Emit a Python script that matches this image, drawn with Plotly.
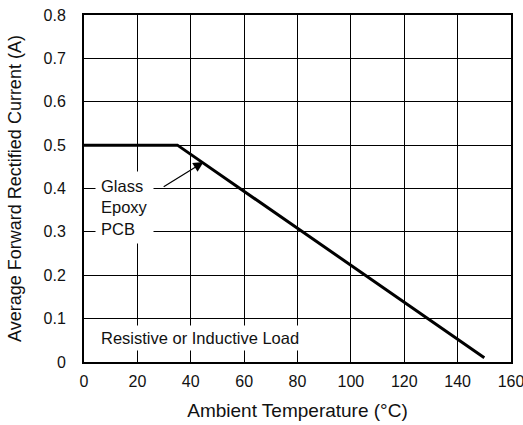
import plotly.graph_objects as go

temp_c = [0, 35, 150]
current_a = [0.5, 0.5, 0.01]
x_ticks = [0, 20, 40, 60, 80, 100, 120, 140, 160]
y_ticks = [0, 0.1, 0.2, 0.3, 0.4, 0.5, 0.6, 0.7, 0.8]
y_tick_labels = ["0", "0.1", "0.2", "0.3", "0.4", "0.5", "0.6", "0.7", "0.8"]

font = "Liberation Sans, Arial, Helvetica, sans-serif"

fig = go.Figure()
fig.add_trace(go.Scatter(x=temp_c, y=current_a, mode="lines",
                         line=dict(color="black", width=3), showlegend=False,
                         hoverinfo="skip"))

fig.update_layout(
    width=523, height=425,
    margin=dict(l=84, r=12, t=15, b=63),
    paper_bgcolor="white", plot_bgcolor="white",
    font=dict(family=font, size=16, color="#111"),
    xaxis=dict(range=[0, 160], tickvals=x_ticks, showgrid=True, gridcolor="black",
               gridwidth=1, showline=True, linecolor="black", linewidth=2, mirror=True,
               ticks="", zeroline=False, tickfont=dict(size=16), automargin=False,
               ticklabelstandoff=4, ticklabeloverflow="allow",
               title=dict(text="Ambient Temperature (°C)", font=dict(size=19), standoff=14)),
    yaxis=dict(range=[0, 0.8], tickvals=y_ticks, ticktext=y_tick_labels, showgrid=True,
               gridcolor="black", gridwidth=1, showline=True, linecolor="black",
               linewidth=2, mirror=True, ticks="", zeroline=False, tickfont=dict(size=16),
               automargin=False, ticklabelstandoff=13, ticklabeloverflow="allow",
               title=dict(text="Average Forward Rectified Current (A)", font=dict(size=18),
                          standoff=17)),
)

fig.add_annotation(x=4, y=0.357, xref="x", yref="y", xanchor="left", yanchor="middle",
                   text="Glass<br>Epoxy<br>PCB", showarrow=False, align="left",
                   bgcolor="white", font=dict(size=16.5), borderpad=5)
fig.add_annotation(x=44.8, y=0.461, ax=29.3, ay=0.402, xref="x", yref="y",
                   axref="x", ayref="y", text="", showarrow=True, arrowhead=2,
                   arrowsize=1.7, arrowwidth=1.2, arrowcolor="black")
fig.add_annotation(x=5, y=0.055, xref="x", yref="y", xanchor="left", yanchor="middle",
                   text="Resistive or Inductive Load", showarrow=False,
                   bgcolor="white", font=dict(size=16.5), borderpad=3)

fig.write_html(
    "out.html",
    config={"displayModeBar": False, "staticPlot": True},
    post_script="document.body.style.margin='0';document.body.style.overflow='hidden';",
)
